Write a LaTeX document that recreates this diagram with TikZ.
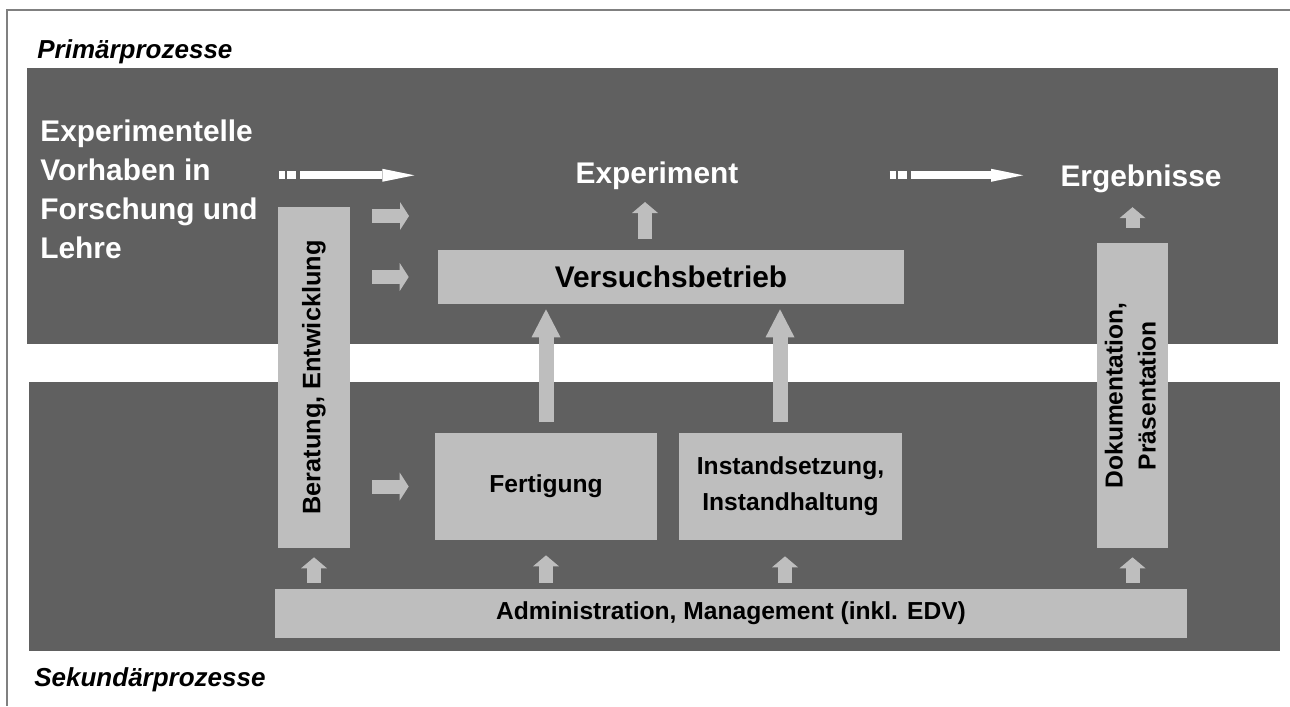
\documentclass[tikz,border=0pt]{standalone}
\usepackage{fontspec}
\setmainfont{Liberation Sans}
\usetikzlibrary{arrows.meta,positioning}
\definecolor{banddark}{RGB}{96,96,96}
\definecolor{boxlight}{RGB}{190,190,190}
\definecolor{framegray}{RGB}{128,128,128}

\begin{document}
\begin{tikzpicture}[
    x=0.02cm, y=-0.02cm,
    band/.style={fill=banddark},
    procbox/.style={
    rectangle,
    fill=boxlight,
    inner sep=0pt,
    align=center,
    font=\fontsize{14}{20.5}\selectfont\bfseries},
    bigtext/.style={text=white, inner sep=0pt, font=\fontsize{17}{22.2}\selectfont\bfseries},
    labeltext/.style={inner sep=0pt, anchor=west, font=\fontsize{14.8}{17}\selectfont\bfseries\itshape},
    uparrow/.style={draw=boxlight, line width=0.28cm, shorten <=0.12cm,
      -{Triangle[width=0.52cm,length=0.22cm,line width=0pt]}},
    bigarrow/.style={draw=boxlight, line width=0.3cm, shorten <=0.22cm, shorten >=0.1cm,
      -{Triangle[width=0.58cm,length=0.56cm,line width=0pt]}},
    sidearrow/.style={draw=boxlight, line width=0.28cm, shorten <=0.44cm,
      -{Triangle[width=0.56cm,length=0.18cm,line width=0pt]}},
    whitearrow/.style={draw=white, line width=0.16cm,
      dash pattern=on 0.12cm off 0.04cm on 0.18cm off 0.08cm on 20cm off 0cm,
      -{Triangle[width=0.26cm,length=0.64cm,line width=0pt]}}
    ]
    \useasboundingbox (0,0) rectangle (1290,706);
    \draw[framegray, line width=0.04cm] (1290,10) -- (7,10) -- (7,706);

    % primary and secondary bands
    \fill[band] (27,68) rectangle (1278,344);
    \fill[band] (29,382) rectangle (1280,651);

    \node[labeltext] (prim) at (37,52) {Primärprozesse};
    \node[labeltext] (sek) at (34,680) {Sekundärprozesse};

    \node[bigtext, anchor=west, align=left] (vorhaben) at (40,189)
      {Experimentelle\\Vorhaben in\\Forschung und\\Lehre};
    \node[bigtext, anchor=base] (exp) at (657,183) {Experiment};
    \node[bigtext, anchor=base] (erg) at (1141,186) {Ergebnisse};

    \node[procbox, minimum width=1.44cm, minimum height=6.82cm] (berat) at (314,377.5)
      {\rotatebox{90}{\fontsize{14.4}{20}\selectfont Beratung, Entwicklung}};
    \node[procbox, minimum width=9.32cm, minimum height=1.08cm,
      font=\fontsize{17}{20}\selectfont\bfseries] (versuch) at (671,277) {Versuchsbetrieb};
    \node[procbox, minimum width=4.44cm, minimum height=2.14cm] (fert) at (546,486.5) {Fertigung};
    \node[procbox, minimum width=4.46cm, minimum height=2.14cm] (inst) at (790.5,486.5)
      {Instandsetzung,\\Instandhaltung};
    \node[procbox, minimum width=1.42cm, minimum height=6.1cm] (doku) at (1132.5,395.5)
      {\rotatebox{90}{\fontsize{14}{18.8}\selectfont\begin{tabular}{@{}c@{}}Dokumentation,\\Präsentation\end{tabular}}};
    \node[procbox, minimum width=18.24cm, minimum height=0.98cm] (admin) at (731,613.5)
      {Administration, Management (inkl. EDV)};

    % flow of the experiment
    \draw[whitearrow, shorten <=0.42cm, shorten >=3.22cm] (vorhaben.east |- exp.west) -- (exp.west);
    \draw[whitearrow, shorten <=3.02cm, shorten >=0.74cm] (exp.east) -- (exp.east -| erg.west);

    \coordinate (expfoot) at ([xshift=-0.52cm]versuch.north);
    \draw[uparrow, shorten <=0.22cm, shorten >=0.25cm] (expfoot) -- (expfoot |- exp.south);
    \draw[uparrow, shorten <=0.3cm, shorten >=0.29cm] (doku.north) -- (doku.north |- erg.south);

    \coordinate (sidetip) at (409,216);
    \draw[sidearrow] (berat.east |- sidetip) -- (sidetip);
    \draw[sidearrow, shorten >=0.58cm] (berat.east |- versuch.west) -- (versuch.west);
    \draw[sidearrow, shorten >=0.52cm] (berat.east |- fert.west) -- (fert.west);

    \draw[bigarrow] (fert.north) -- (fert.north |- versuch.south);
    \coordinate (insttop) at ([xshift=-0.21cm]inst.north);
    \draw[bigarrow] (insttop) -- (insttop |- versuch.south);

    % support from administration
    \coordinate (instfoot) at ([xshift=-0.11cm]inst.south);
    \draw[uparrow, shorten >=0.18cm] (berat.south |- admin.north) -- (berat.south);
    \draw[uparrow, shorten >=0.3cm] (fert.south |- admin.north) -- (fert.south);
    \draw[uparrow, shorten >=0.32cm] (instfoot |- admin.north) -- (instfoot);
    \draw[uparrow, shorten >=0.18cm] (doku.south |- admin.north) -- (doku.south);
\end{tikzpicture}
\end{document}
